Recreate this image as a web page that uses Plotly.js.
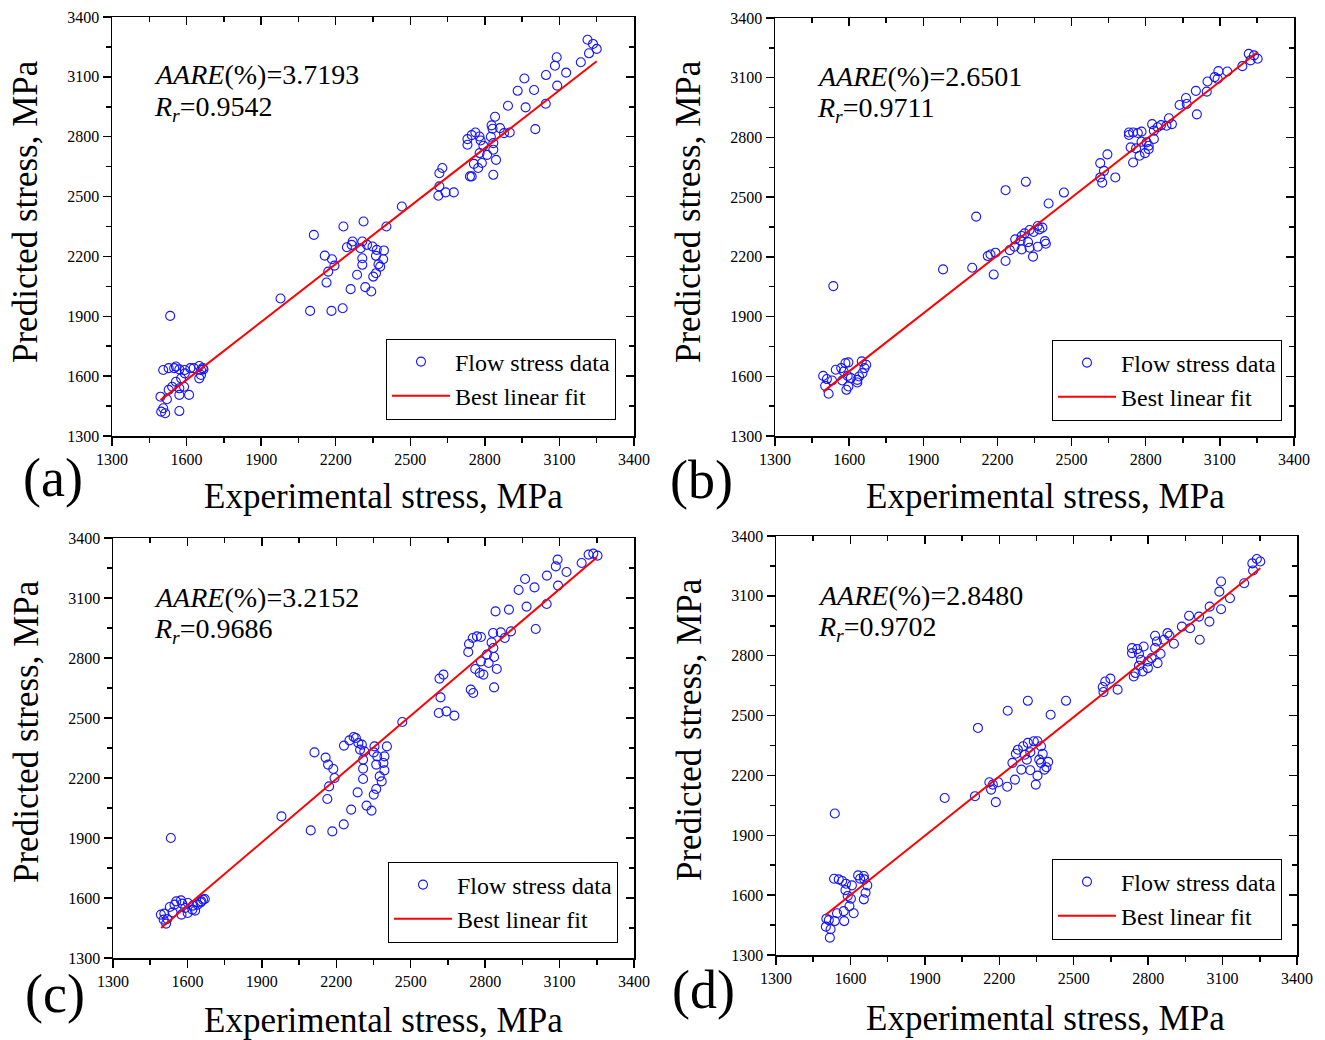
<!DOCTYPE html>
<html>
<head>
<meta charset="utf-8">
<script src="https://cdn.plot.ly/plotly-3.0.1.min.js"></script>
<style>html,body{margin:0;padding:0;background:#fff;}#chart{width:1325px;height:1040px;}</style>
</head>
<body>
<div id="chart"></div>
<script>
// ---------------- DATA ----------------
const tickValues = [1300, 1600, 1900, 2200, 2500, 2800, 3100, 3400];
const minorTickValues = [1450, 1750, 2050, 2350, 2650, 2950, 3250];
const panelLabels = ['(a)', '(b)', '(c)', '(d)'];
const aareValues = ['3.7193', '2.6501', '3.2152', '2.8480'];
const rrValues = ['0.9542', '0.9711', '0.9686', '0.9702'];
const xTitle = 'Experimental stress, MPa';
const yTitle = 'Predicted stress, MPa';
const seriesNames = ['Flow stress data', 'Best linear fit'];

const aExp = [3213,3235,3250,3219,3186,3089,3082,3127,3091,3046,2959,2932,2998,2964,2893,3045,3003,2841,2827,2831,2861,2877,2900,2824,2834,2762,2747,2730,2778,2783,2730,2794,2779,2809,2834,2845,2756,2788,2773,2740,2747,2834,
  2629,2617,2617,2613,2642,2675,2466,2404,
  2312,2231,2112,2268,2245,2264,2307,2300,2326,2348,2365,2394,2307,2362,2391,2156,2185,2195,2170,2163,2307,2372,2379,2286,2362,2351,2260,2319,2343,
  1978,2097,2183,2228,1534,
  1506,1528,1557,1550,1571,1593,1615,1629,1651,1665,1658,1668,1651,1658,1593,1578,1557,1542,1528,1571,1590,1571,1610,1495,1521,1506,1498,1514,1571];
const aPred = [3286,3265,3240,3218,3173,3198,3156,3121,3056,3109,3092,3030,3034,2947,2955,2965,2838,2900,2857,2840,2843,2818,2821,2800,2768,2821,2808,2788,2801,2781,2760,2755,2718,2709,2735,2684,2664,2668,2643,2601,2601,2609,
  2643,2617,2551,2504,2521,2521,2450,2350,
  2375,2350,2308,2275,2246,2258,2275,2241,2258,2250,2233,2230,2191,2203,2186,2204,2186,2154,2124,2069,2158,2161,2149,2108,2116,2099,2036,2046,2024,
  1989,1927,1927,1940,1902,
  1631,1640,1648,1640,1634,1631,1640,1640,1651,1640,1631,1634,1589,1606,1614,1589,1572,1547,1531,1539,1547,1506,1506,1497,1484,1439,1422,1414,1425];
const aFitX = [1495, 3250];
const aFitY = [1480, 3178];

const bExp = [3217,3238,3253,3224,3191,3130,3094,3091,3079,3050,3047,3003,2963,2937,2966,3007,2894,2906,2884,2862,2826,2833,2848,2833,2783,2768,2749,2732,2732,2783,2804,2812,2739,2761,2812,2797,2775,2749,
  2645,2616,2631,2616,2624,2677,2469,2407,2315,2233,2114,
  2382,2370,2363,2346,2330,2310,2298,2272,2294,2324,2392,2396,2269,2298,2330,2363,2250,2344,2161,2172,2192,2233,2185,2098,1980,
  1536,
  1495,1510,1546,1568,1585,1597,1578,1594,1607,1572,1531,1503,1589,1597,1517,1633,1633,1640,1654,1651,1662,1669];
const bPred = [3220,3212,3195,3187,3158,3131,3133,3094,3103,3081,3030,3034,2998,2963,2968,2916,2896,2867,2859,2862,2867,2834,2851,2792,2829,2822,2825,2825,2812,2778,2775,2758,2750,2745,2741,2721,2708,2674,
  2715,2671,2632,2599,2573,2599,2523,2468,2577,2535,2402,
  2347,2338,2355,2325,2335,2318,2305,2288,2283,2274,2279,2266,2251,2237,2246,2251,2234,2201,2204,2212,2221,2179,2111,2145,2137,
  2053,
  1602,1586,1633,1641,1666,1670,1624,1602,1591,1579,1579,1552,1532,1549,1512,1569,1582,1599,1616,1675,1641,1658];
const bFitX = [1495, 3253];
const bFitY = [1523, 3229];

const cExp = [3217,3236,3253,3189,3092,3085,3128,3049,3094,2961,2999,2935,2967,3048,2842,2896,3004,2832,2863,2904,2879,2826,2833,2783,2767,2750,2735,2732,2807,2836,2783,2814,2847,2760,2778,2793,2742,2752,2836,
  2632,2616,2620,2613,2644,2676,2466,
  2404,2270,2279,2253,2231,2289,2303,2296,2313,2354,2351,2365,2394,2308,2361,2390,2112,2157,2167,2188,2193,2308,2394,2375,2383,2308,2171,2164,2286,2361,2351,2260,2322,2342,
  1979,2097,2184,2230,1533,
  1493,1507,1519,1514,1529,1548,1555,1574,1579,1602,1591,1576,1601,1620,1631,1641,1653,1663,1670,1656,1622,1540,1504];
const cPred = [3317,3322,3312,3275,3292,3258,3230,3212,3162,3195,3153,3140,3057,3070,3033,3042,2945,2925,2928,2933,2900,2878,2850,2905,2908,2900,2870,2830,2817,2805,2783,2775,2745,2745,2725,2717,2642,2625,2653,
  2717,2697,2603,2525,2533,2512,2480,
  2358,2405,2400,2388,2362,2375,2367,2342,2333,2358,2328,2308,2308,2292,2267,2275,2328,2302,2267,2245,2200,2247,2238,2208,2183,2195,2158,2095,2128,2145,2117,2042,2062,2037,
  2008,1938,1933,1968,1900,
  1517,1522,1495,1472,1555,1567,1583,1588,1572,1575,1550,1517,1525,1542,1537,1567,1578,1592,1595,1583,1562,1528,1492];
const cFitX = [1494, 3250];
const cFitY = [1450, 3303];

const dExp = [3220,3238,3252,3223,3187,3094,3087,3130,3094,3048,3047,3008,2965,3005,2936,2969,2878,2886,2904,2864,2828,2835,2828,2850,2838,2814,2799,2782,2763,2735,2735,2756,2771,2763,2799,2778,2749,2742,
  2648,2627,2617,2620,2677,2469,2407,2315,2234,2114,
  2354,2339,2315,2296,2275,2267,2303,2325,2368,2375,2361,2397,2390,2368,2253,2311,2289,2325,2354,2382,2347,2263,2232,2160,2174,2196,2167,2186,2102,1980,
  1537,
  1534,1553,1567,1582,1606,1631,1639,1654,1656,1668,1661,1654,1580,1589,1602,1596,1573,1613,1546,1537,1575,1503,1513,1501,1520,1517];
const dPred = [3263,3285,3272,3227,3163,3172,3121,3088,3033,3046,2971,2880,3000,2996,2946,2938,2913,2900,2860,2880,2900,2871,2838,2810,2763,2788,2771,2846,2810,2838,2813,2833,2780,2750,2738,2721,2713,2696,
  2685,2671,2643,2618,2630,2574,2504,2574,2524,2438,
  2371,2371,2363,2346,2329,2309,2304,2316,2346,2308,2279,2268,2241,2263,2263,2279,2229,2226,2199,2229,2154,2179,2143,2166,2154,2166,2129,2066,2096,2087,
  2009,
  1682,1679,1671,1657,1649,1699,1682,1696,1679,1649,1612,1579,1625,1596,1582,1545,1520,1509,1509,1470,1470,1482,1475,1442,1429,1387];
const dFitX = [1498, 3252];
const dFitY = [1499, 3238];

const expSeries = [aExp, bExp, cExp, dExp];
const predSeries = [aPred, bPred, cPred, dPred];
const fitXSeries = [aFitX, bFitX, cFitX, dFitX];
const fitYSeries = [aFitY, bFitY, cFitY, dFitY];

// ---------------- LAYOUT GEOMETRY (pixels) ----------------
const W = 1325, H = 1040;
const boxes = [
  {l:112, r:634, t:17, b:436},
  {l:775, r:1294, t:18, b:436},
  {l:113, r:634, t:538, b:958},
  {l:776, r:1297, t:536, b:955}
];
const textPos = [
  {xt:[383,496], yt:[26,212], lab:[53,478], aare:[152,75], rr:[152,109], leg:[616,379]},
  {xt:[1045,496], yt:[689,212], lab:[702,480], aare:[815,77], rr:[815,110], leg:[1282,380]},
  {xt:[383,1020], yt:[26,732], lab:[55,994], aare:[152,597], rr:[152,630], leg:[618,902]},
  {xt:[1045,1018], yt:[689,730], lab:[703,990], aare:[816,595], rr:[816,628], leg:[1282,899]}
];
const px = v => v / W;
const py = v => 1 - v / H;
const SERIF = 'Liberation Serif, Times New Roman, serif';

const traces = [];
const layout = {
  width: W, height: H,
  margin: {l:0, r:0, t:0, b:0},
  paper_bgcolor: '#ffffff', plot_bgcolor: '#ffffff',
  showlegend: true,
  annotations: []
};

function baseAxis() {
  return {
    range: [tickValues[0], tickValues[tickValues.length - 1]],
    tickmode: 'array', tickvals: tickValues, ticktext: tickValues.map(String),
    ticks: 'outside', ticklen: 8, tickwidth: 1.5, tickcolor: '#000',
    minor: {tickmode: 'array', tickvals: minorTickValues, ticks: 'outside', ticklen: 5, tickwidth: 1.5, tickcolor: '#000'},
    showline: true, linewidth: 1.5, linecolor: '#000',
    showgrid: false, zeroline: false, fixedrange: true,
    tickfont: {family: SERIF, size: 16, color: '#000'}
  };
}

for (let i = 0; i < 4; i++) {
  const n = i + 1, m = i + 5;
  const bx = boxes[i];
  const xs = n === 1 ? '' : String(n);
  const ms = String(m);
  const legName = n === 1 ? 'legend' : 'legend' + n;

  const xa = baseAxis();
  xa.domain = [px(bx.l), px(bx.r)];
  xa.anchor = 'y' + xs;
  const ya = baseAxis();
  ya.domain = [py(bx.b), py(bx.t)];
  ya.anchor = 'x' + xs;
  layout['xaxis' + xs] = xa;
  layout['yaxis' + xs] = ya;

  const xm = baseAxis();
  xm.overlaying = 'x' + xs; xm.side = 'top'; xm.anchor = 'y' + ms;
  xm.ticks = 'inside'; xm.minor.ticks = 'inside'; xm.showticklabels = false;
  const ym = baseAxis();
  ym.overlaying = 'y' + xs; ym.side = 'right'; ym.anchor = 'x' + ms;
  ym.ticks = 'inside'; ym.minor.ticks = 'inside'; ym.showticklabels = false;
  layout['xaxis' + ms] = xm;
  layout['yaxis' + ms] = ym;

  traces.push({
    type: 'scatter', mode: 'markers', name: seriesNames[0],
    x: expSeries[i], y: predSeries[i],
    xaxis: 'x' + xs, yaxis: 'y' + xs, legend: legName,
    marker: {symbol: 'circle-open', size: 9, color: 'rgb(20,20,255)', line: {width: 1.1, color: 'rgb(20,20,255)'}},
    hoverinfo: 'skip'
  });
  traces.push({
    type: 'scatter', mode: 'lines', name: seriesNames[1],
    x: fitXSeries[i], y: fitYSeries[i],
    xaxis: 'x' + xs, yaxis: 'y' + xs, legend: legName,
    line: {color: '#ff0000', width: 2},
    hoverinfo: 'skip'
  });
  traces.push({
    type: 'scatter', mode: 'markers', x: [], y: [],
    xaxis: 'x' + ms, yaxis: 'y' + ms, showlegend: false, hoverinfo: 'skip'
  });

  const tp = textPos[i];
  layout[legName] = {
    x: px(tp.leg[0]), y: py(tp.leg[1]), xanchor: 'right', yanchor: 'middle',
    bgcolor: '#ffffff', bordercolor: '#000', borderwidth: 1,
    font: {family: SERIF, size: 24, color: '#000'},
    itemwidth: 58, tracegroupgap: 0
  };

  const ann = layout.annotations;
  ann.push({xref:'paper', yref:'paper', x: px(tp.xt[0]), y: py(tp.xt[1]), xanchor:'center', yanchor:'middle',
    text: xTitle, showarrow:false, font:{family:SERIF, size:35, color:'#000'}});
  ann.push({xref:'paper', yref:'paper', x: px(tp.yt[0]), y: py(tp.yt[1]), xanchor:'center', yanchor:'middle',
    text: yTitle, textangle: -90, showarrow:false, font:{family:SERIF, size:35, color:'#000'}});
  ann.push({xref:'paper', yref:'paper', x: px(tp.lab[0]), y: py(tp.lab[1]), xanchor:'center', yanchor:'middle',
    text: panelLabels[i], showarrow:false, font:{family:SERIF, size:54, color:'#000'}});
  ann.push({xref:'paper', yref:'paper', x: px(tp.aare[0]), y: py(tp.aare[1]), xanchor:'left', yanchor:'middle',
    text: '<i>AARE</i>(%)=' + aareValues[i], showarrow:false, font:{family:SERIF, size:28, color:'#000'}});
  ann.push({xref:'paper', yref:'paper', x: px(tp.rr[0]), y: py(tp.rr[1]), xanchor:'left', yanchor:'middle',
    text: '<i>R</i><sub><i>r</i></sub>=' + rrValues[i], showarrow:false, font:{family:SERIF, size:28, color:'#000'}});
}

Plotly.newPlot('chart', traces, layout, {displayModeBar: false, staticPlot: true});
</script>
</body>
</html>
